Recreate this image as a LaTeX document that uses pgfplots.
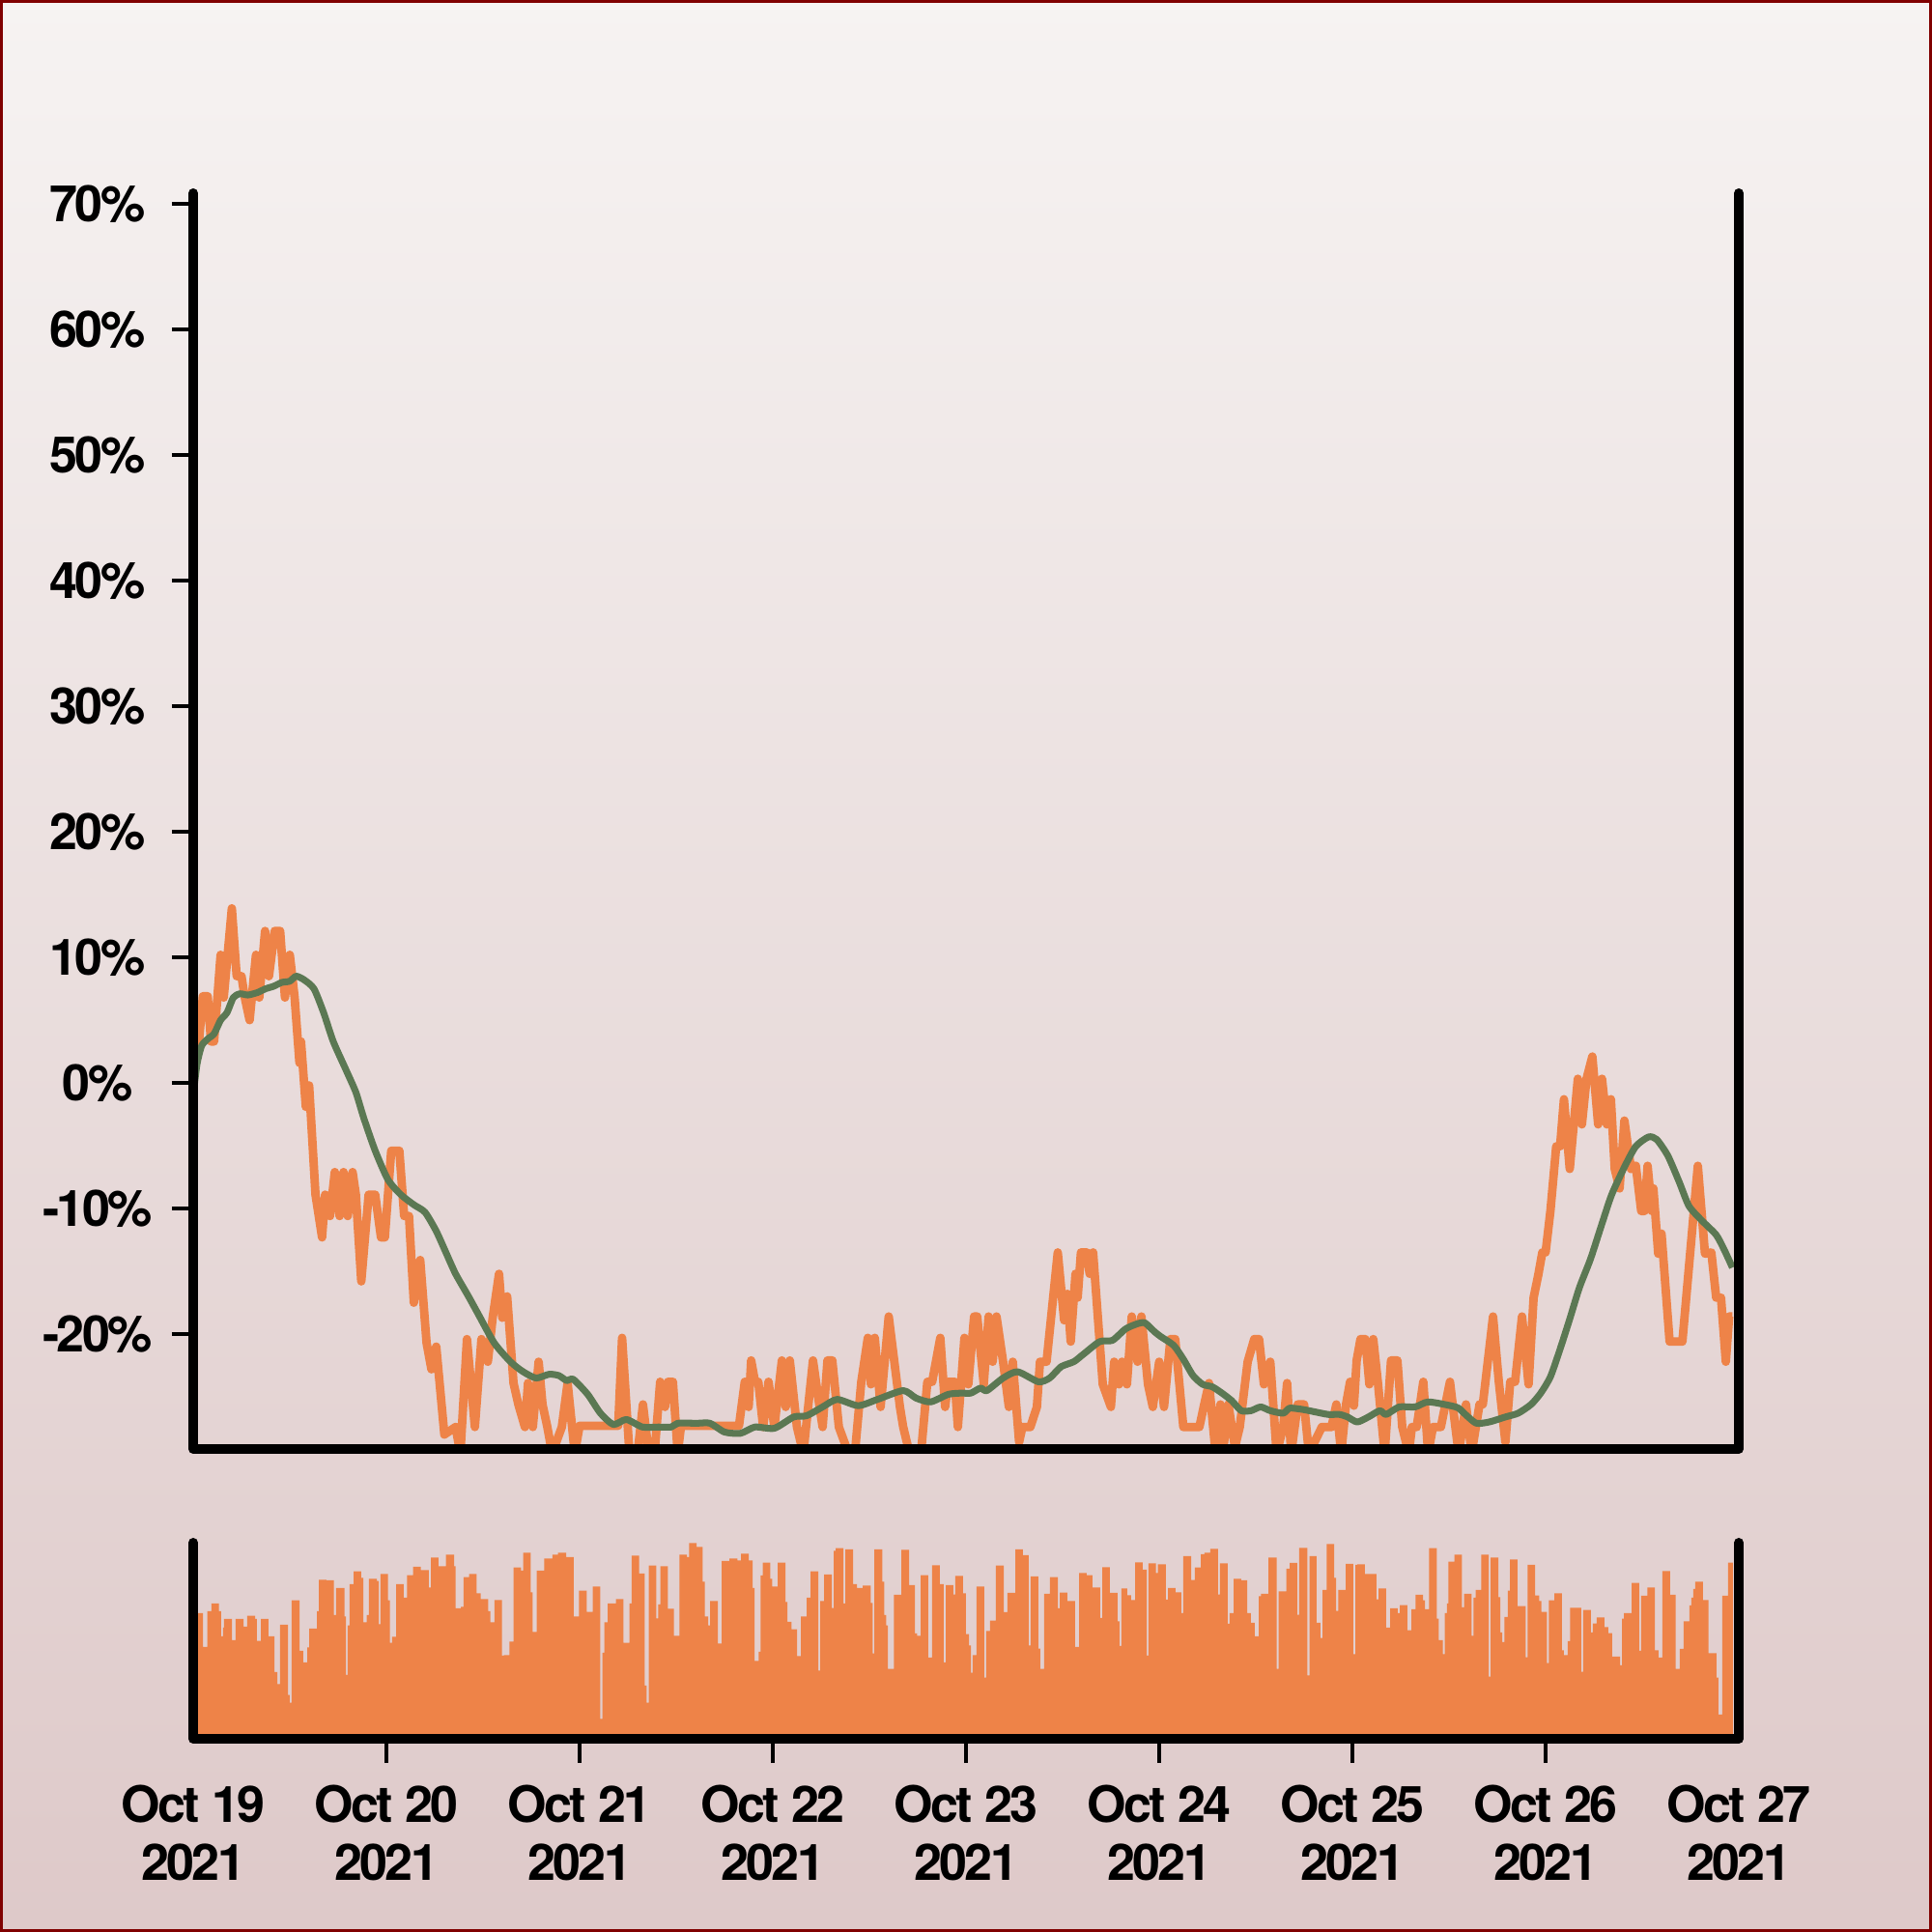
\documentclass[border=0pt]{standalone}
\usepackage{pgfplots}
\pgfplotsset{compat=1.18}
\usepackage{fontspec}
\setmainfont{TeX Gyre Heros}
\newfontfamily\lblfont{TeX Gyre Heros}[LetterSpace=-5]
\newcommand{\lbl}{\lblfont\bfseries\fontsize{14.8}{17.1}\selectfont}
\definecolor{orangeL}{RGB}{238,131,72}
\definecolor{greenL}{RGB}{91,120,83}
\definecolor{bgtop}{RGB}{246,243,242}
\definecolor{bgbot}{RGB}{222,201,201}
\definecolor{frameR}{RGB}{128,0,0}
\begin{document}
\begin{tikzpicture}
\useasboundingbox (0,0) rectangle (20,20);
\shade[top color=bgtop, bottom color=bgbot] (0,0) rectangle (20,20);
\draw[frameR, line width=0.03cm] (0.015,0.015) rectangle (19.985,19.985);

% ---------------- top axis ----------------
\begin{axis}[
  at={(2cm,5cm)}, anchor=south west, scale only axis,
  width=16cm, height=13cm,
  xmin=0, xmax=8, ymin=-29.15, ymax=70.85,
  axis line style={draw=none},
  xtick=\empty,
  ytick={-20,-10,0,10,20,30,40,50,60,70},
  yticklabels={-20\%,-10\%,0\%,10\%,20\%,30\%,40\%,50\%,60\%,70\%},
  ytick pos=left, tick align=outside, major tick length=0.22cm,
  tick style={black, line width=0.9pt},
  yticklabel style={font=\lbl, anchor=center, inner sep=0pt, xshift=-0.77cm},
]
\addplot[orangeL, line width=2.5pt, line join=round] coordinates {
(0.000,0.5) (0.030,3.3) (0.050,6.9) (0.075,6.9) (0.092,3.3) (0.108,3.3) (0.142,10.2) (0.158,6.8)
(0.200,13.9) (0.225,8.5) (0.250,8.5) (0.267,6.8) (0.292,5.0) (0.325,10.2) (0.342,6.8) (0.372,12.1)
(0.392,8.5) (0.422,12.1) (0.450,12.1) (0.475,6.8) (0.500,10.2) (0.525,6.8) (0.550,1.6) (0.558,3.3)
(0.583,-1.9) (0.600,-0.2) (0.633,-8.9) (0.667,-12.3) (0.683,-8.9) (0.708,-10.6) (0.733,-7.1) (0.758,-10.6)
(0.778,-7.1) (0.800,-10.6) (0.825,-7.1) (0.842,-8.9) (0.870,-15.8) (0.908,-8.9) (0.942,-8.9) (0.972,-12.3)
(0.992,-12.3) (1.025,-5.4) (1.067,-5.4) (1.092,-10.6) (1.117,-10.6) (1.142,-17.5) (1.175,-14.1) (1.208,-20.7)
(1.233,-22.8) (1.258,-21.0) (1.300,-28.0) (1.358,-27.4) (1.383,-29.5) (1.417,-20.4) (1.458,-27.4) (1.492,-20.4)
(1.525,-22.2) (1.550,-18.7) (1.583,-15.2) (1.600,-18.7) (1.625,-17.0) (1.658,-23.9) (1.683,-25.6) (1.717,-27.4)
(1.733,-23.9) (1.758,-27.4) (1.788,-22.2) (1.808,-25.6) (1.833,-27.4) (1.858,-29.5) (1.908,-27.4) (1.938,-23.9)
(1.975,-29.5) (2.000,-27.3) (2.200,-27.3) (2.220,-20.3) (2.258,-29.5) (2.300,-29.5) (2.328,-25.6) (2.358,-29.5)
(2.388,-29.5) (2.417,-23.8) (2.442,-25.8) (2.458,-23.8) (2.483,-23.8) (2.508,-29.5) (2.525,-27.3) (2.825,-27.3)
(2.855,-23.8) (2.875,-25.8) (2.888,-22.1) (2.908,-23.8) (2.925,-23.8) (2.950,-27.4) (2.978,-23.8) (3.008,-27.4)
(3.047,-22.1) (3.067,-25.8) (3.088,-22.1) (3.125,-27.4) (3.158,-29.5) (3.208,-22.1) (3.242,-25.8) (3.258,-27.4)
(3.283,-22.1) (3.308,-22.1) (3.342,-27.4) (3.392,-29.5) (3.425,-29.5) (3.458,-23.8) (3.492,-20.3) (3.508,-24.0)
(3.528,-20.3) (3.558,-25.8) (3.600,-18.6) (3.642,-23.8) (3.658,-25.8) (3.675,-27.4) (3.708,-29.5) (3.767,-29.5)
(3.800,-23.8) (3.825,-23.8) (3.867,-20.3) (3.892,-25.8) (3.908,-23.8) (3.942,-23.8) (3.958,-27.4) (3.992,-20.3)
(4.012,-24.0) (4.042,-18.6) (4.058,-18.6) (4.092,-24.0) (4.117,-18.6) (4.138,-22.2) (4.158,-18.6) (4.192,-22.2)
(4.222,-25.8) (4.242,-22.2) (4.275,-28.6) (4.292,-27.4) (4.333,-27.4) (4.367,-25.8) (4.383,-22.2) (4.417,-22.2)
(4.475,-13.5) (4.508,-18.9) (4.525,-16.8) (4.542,-20.6) (4.567,-15.2) (4.578,-17.1) (4.595,-13.5) (4.625,-13.5)
(4.640,-15.2) (4.658,-13.5) (4.708,-24.0) (4.750,-25.8) (4.767,-22.2) (4.792,-24.0) (4.808,-22.2) (4.833,-24.0)
(4.858,-18.6) (4.888,-22.2) (4.908,-18.6) (4.942,-24.0) (4.967,-25.8) (5.000,-22.2) (5.025,-25.8) (5.058,-20.4)
(5.083,-20.4) (5.125,-27.4) (5.208,-27.4) (5.233,-25.6) (5.258,-23.9) (5.292,-29.5) (5.317,-25.6) (5.333,-29.0)
(5.358,-25.6) (5.392,-29.0) (5.417,-27.4) (5.458,-22.2) (5.492,-20.4) (5.517,-20.4) (5.542,-24.0) (5.575,-22.2)
(5.608,-29.5) (5.642,-27.4) (5.662,-23.9) (5.683,-29.5) (5.717,-25.6) (5.750,-25.6) (5.775,-29.5) (5.842,-27.4)
(5.892,-27.4) (5.917,-25.6) (5.942,-29.5) (5.967,-25.6) (5.988,-23.8) (6.008,-25.7) (6.022,-22.1) (6.042,-20.4)
(6.067,-20.4) (6.088,-24.0) (6.108,-20.4) (6.133,-24.0) (6.167,-29.5) (6.200,-22.1) (6.233,-22.1) (6.258,-27.4)
(6.292,-29.5) (6.308,-27.4) (6.333,-27.4) (6.367,-23.8) (6.392,-29.5) (6.417,-27.4) (6.458,-27.4) (6.505,-23.8)
(6.533,-27.4) (6.550,-29.5) (6.588,-25.6) (6.617,-29.5) (6.658,-25.6) (6.675,-25.6) (6.728,-18.6) (6.758,-23.8)
(6.792,-28.6) (6.817,-23.8) (6.842,-23.8) (6.878,-18.6) (6.912,-24.0) (6.938,-17.1) (6.962,-15.3) (6.983,-13.5)
(7.000,-13.5) (7.025,-10.2) (7.055,-5.05) (7.075,-5.05) (7.095,-1.3) (7.125,-6.85) (7.167,0.33) (7.188,-3.3)
(7.212,0.33) (7.242,2.1) (7.272,-3.3) (7.292,0.33) (7.317,-3.3) (7.338,-1.3) (7.358,-6.85) (7.383,-8.4)
(7.408,-3.0) (7.442,-6.85) (7.467,-6.6) (7.495,-10.2) (7.512,-10.2) (7.528,-6.6) (7.550,-10.2) (7.558,-8.4)
(7.583,-13.6) (7.600,-12.0) (7.642,-20.6) (7.708,-20.6) (7.788,-6.6) (7.825,-13.6) (7.858,-13.5) (7.883,-17.1)
(7.908,-17.1) (7.933,-22.2) (7.950,-18.6) (7.967,-18.6)
};
\addplot[greenL, line width=2.0pt, line join=round, smooth, tension=0.4] coordinates {
(0.000,-1.0) (0.020,1.5) (0.045,3.0) (0.083,3.6) (0.108,3.9) (0.142,5.0) (0.175,5.6) (0.208,6.8)
(0.242,7.1) (0.283,7.0) (0.333,7.2) (0.375,7.5) (0.417,7.7) (0.458,8.0) (0.500,8.1) (0.533,8.5)
(0.575,8.2) (0.625,7.5) (0.675,5.6) (0.725,3.3) (0.792,1.0) (0.842,-0.75) (0.883,-2.8) (0.942,-5.4)
(1.008,-7.7) (1.075,-8.9) (1.142,-9.7) (1.200,-10.3) (1.258,-11.8) (1.308,-13.5) (1.358,-15.2) (1.425,-17.0)
(1.475,-18.4) (1.558,-20.7) (1.642,-22.2) (1.708,-23.0) (1.775,-23.5) (1.842,-23.2) (1.892,-23.3) (1.933,-23.7)
(1.967,-23.6) (2.042,-24.8) (2.108,-26.3) (2.175,-27.2) (2.242,-26.8) (2.325,-27.4) (2.408,-27.4) (2.475,-27.4)
(2.508,-27.1) (2.608,-27.1) (2.675,-27.1) (2.750,-27.8) (2.833,-27.9) (2.908,-27.4) (3.008,-27.5) (3.108,-26.6)
(3.175,-26.5) (3.258,-25.8) (3.333,-25.2) (3.442,-25.7) (3.542,-25.2) (3.675,-24.5) (3.742,-25.1) (3.817,-25.4)
(3.908,-24.8) (3.975,-24.7) (4.025,-24.7) (4.075,-24.3) (4.108,-24.5) (4.192,-23.5) (4.267,-23.0) (4.375,-23.8)
(4.433,-23.5) (4.492,-22.6) (4.558,-22.2) (4.608,-21.6) (4.692,-20.6) (4.758,-20.5) (4.825,-19.6) (4.883,-19.2)
(4.925,-19.1) (4.975,-19.8) (5.008,-20.2) (5.075,-20.9) (5.125,-22.0) (5.175,-23.3) (5.225,-24.0) (5.275,-24.2)
(5.325,-24.7) (5.375,-25.3) (5.425,-26.1) (5.475,-26.1) (5.525,-25.8) (5.575,-26.1) (5.642,-26.3) (5.675,-25.9)
(5.742,-26.0) (5.808,-26.2) (5.875,-26.4) (5.933,-26.4) (5.975,-26.6) (6.025,-27.0) (6.083,-26.6) (6.142,-26.1)
(6.175,-26.4) (6.242,-25.8) (6.325,-25.8) (6.392,-25.4) (6.508,-25.7) (6.550,-25.9) (6.592,-26.5) (6.642,-27.1)
(6.708,-27.0) (6.792,-26.6) (6.858,-26.3) (6.925,-25.6) (6.975,-24.7) (7.025,-23.4) (7.075,-21.2) (7.125,-18.8)
(7.175,-16.3) (7.233,-14.0) (7.292,-11.2) (7.342,-8.9) (7.408,-6.7) (7.467,-5.05) (7.533,-4.3) (7.575,-4.5)
(7.633,-5.8) (7.692,-7.9) (7.742,-9.8) (7.808,-10.95) (7.883,-12.1) (7.925,-13.3) (7.967,-14.7)
};
\end{axis}
\draw[black, line width=0.1cm, line cap=round, line join=round] (2,18) -- (2,5) -- (18,5) -- (18,18);

% ---------------- bottom axis ----------------
\begin{axis}[
  at={(2cm,2cm)}, anchor=south west, scale only axis,
  width=16cm, height=2.03cm,
  xmin=0, xmax=8, ymin=0, ymax=101.5,
  axis line style={draw=none},
  ytick=\empty,
  xtick={1,2,3,4,5,6,7},
  xticklabels={{Oct 20\\2021},{Oct 21\\2021},{Oct 22\\2021},{Oct 23\\2021},{Oct 24\\2021},{Oct 25\\2021},{Oct 26\\2021}},
  extra x ticks={0,8},
  extra x tick labels={{Oct 19\\2021},{Oct 27\\2021}},
  extra x tick style={tick style={draw=none}},
  xtick pos=left, tick align=outside, major tick length=0.25cm,
  tick style={black, line width=0.9pt},
  xticklabel style={font=\lbl, align=center, anchor=north, inner sep=0pt, yshift=-0.22cm},
]
\addplot[ybar interval, fill=orangeL, draw=none] coordinates {
(0.000,65) (0.050,47.5) (0.073,66) (0.094,70) (0.133,66) (0.144,53) (0.154,57.5) (0.159,62)
(0.201,51) (0.219,62) (0.261,58) (0.279,63.7) (0.321,62) (0.329,50.7) (0.350,62) (0.389,53)
(0.420,34.5) (0.436,28.3) (0.449,59) (0.491,22.7) (0.499,18.7) (0.509,71.7) (0.551,45.5) (0.569,39.5)
(0.590,47.3) (0.601,57) (0.640,66) (0.650,82.3) (0.689,82) (0.728,64) (0.739,78) (0.783,63.3)
(0.791,33) (0.799,58.7) (0.809,80) (0.830,86.7) (0.869,83.3) (0.880,60.3) (0.898,64) (0.909,82.8)
(0.950,81.7) (0.961,59.3) (0.969,85.3) (1.008,71.7) (1.018,49.7) (1.029,52.8) (1.050,80) (1.089,73)
(1.107,84.7) (1.138,89) (1.178,87.3) (1.219,78.3) (1.230,93.8) (1.269,89.3) (1.308,95.3) (1.350,89.3)
(1.358,67.5) (1.386,68.3) (1.399,83.7) (1.428,85.3) (1.467,75.3) (1.488,72.3) (1.527,66) (1.538,60.3)
(1.559,71.8) (1.598,43) (1.608,43.3) (1.637,50.3) (1.658,88.7) (1.697,87) (1.708,96.3) (1.747,75.8)
(1.757,55.3) (1.778,87) (1.817,93.3) (1.859,95.3) (1.888,96.3) (1.930,94) (1.969,63.3) (1.997,76.7)
(2.037,65.7) (2.068,78.8) (2.107,10.3) (2.118,44.5) (2.128,60.3) (2.146,70) (2.188,72.3) (2.227,49.7)
(2.258,70) (2.269,94.8) (2.308,85.5) (2.337,27.5) (2.347,18.7) (2.358,89.7) (2.397,62.3) (2.407,69.5)
(2.418,89.3) (2.457,67.3) (2.488,53.3) (2.517,95.3) (2.556,94) (2.567,101.3) (2.606,99.3) (2.637,81.3)
(2.648,63.3) (2.666,58.7) (2.676,71.3) (2.715,49.3) (2.736,92) (2.775,93.3) (2.817,92.3) (2.836,95.8)
(2.875,92.3) (2.896,78) (2.906,40.3) (2.927,45) (2.937,84.5) (2.948,91.2) (2.987,82.8) (2.997,78.8)
(3.026,91.2) (3.065,70.8) (3.076,60.5) (3.097,56.7) (3.125,42.8) (3.146,63.3) (3.175,73) (3.196,86.7)
(3.235,35.3) (3.245,71.3) (3.266,85) (3.305,67.7) (3.316,97.3) (3.326,98.7) (3.366,70) (3.376,98)
(3.415,80) (3.436,78) (3.465,79.3) (3.507,70.3) (3.517,44.2) (3.525,98) (3.567,81.3) (3.577,64)
(3.587,58.7) (3.595,36.2) (3.627,74.5) (3.666,97.8) (3.705,79.5) (3.736,54.5) (3.747,53.3) (3.765,84.7)
(3.804,42) (3.825,89.8) (3.864,80) (3.885,39.5) (3.896,79.5) (3.935,74.7) (3.945,84.3) (3.984,75.3)
(4.000,54.2) (4.016,48.3) (4.026,34.2) (4.034,43.3) (4.055,78.8) (4.094,31.7) (4.105,55.8) (4.125,61.2)
(4.154,89.7) (4.196,65.5) (4.214,75.5) (4.256,98) (4.295,95) (4.324,48.3) (4.335,84) (4.374,46.7)
(4.384,36.2) (4.405,75) (4.434,83.7) (4.476,67.5) (4.486,75.7) (4.525,71.3) (4.565,47.5) (4.586,85.8)
(4.625,84.7) (4.654,78.3) (4.695,62.5) (4.706,88.8) (4.745,75.5) (4.784,60.8) (4.795,48) (4.805,77.8)
(4.834,74.3) (4.855,71.8) (4.876,91.3) (4.915,87.5) (4.936,43) (4.944,90.8) (4.983,85.8) (4.993,90.3)
(5.035,72) (5.046,78) (5.085,75.8) (5.114,65) (5.124,94.5) (5.166,82.2) (5.184,88.7) (5.216,95.5)
(5.234,96.3) (5.265,98.3) (5.305,74.7) (5.315,90.8) (5.354,59.5) (5.365,65) (5.386,82.8) (5.425,82)
(5.456,65) (5.475,60) (5.495,53) (5.516,73.8) (5.527,75) (5.566,93.8) (5.608,36.2) (5.618,76.3)
(5.658,88) (5.676,91) (5.715,64.2) (5.725,98.8) (5.767,32.8) (5.778,94.5) (5.814,60) (5.835,52.2)
(5.846,77) (5.867,100.8) (5.906,83.3) (5.916,66.2) (5.927,77) (5.966,90.5) (6.005,43.8) (6.016,90)
(6.026,90.3) (6.065,85.3) (6.125,72.2) (6.136,77.8) (6.175,57.5) (6.196,67.5) (6.235,65) (6.246,69.2)
(6.285,56.2) (6.306,67) (6.327,74.5) (6.366,71.7) (6.376,67) (6.397,98.7) (6.437,62.2) (6.447,51)
(6.468,43.8) (6.478,65) (6.489,70) (6.497,91.7) (6.528,95.3) (6.567,68) (6.578,75) (6.617,53.3)
(6.627,73) (6.638,77) (6.667,95.3) (6.706,32.2) (6.716,93.8) (6.756,73.3) (6.766,55) (6.776,50)
(6.787,63) (6.805,76.7) (6.816,92.8) (6.855,68.7) (6.897,42.2) (6.907,90) (6.946,74.2) (6.967,71.3)
(6.978,65.7) (7.007,39.2) (7.017,71.7) (7.046,75.3) (7.085,45.8) (7.095,43.3) (7.114,50.5) (7.127,67.8)
(7.184,34.7) (7.195,66.7) (7.234,55) (7.244,59.7) (7.265,62.8) (7.305,57.8) (7.325,54.7) (7.344,42.5)
(7.386,38) (7.396,62.2) (7.406,65) (7.446,80.7) (7.485,45.5) (7.495,74) (7.527,78.3) (7.566,45.8)
(7.584,42) (7.605,86.8) (7.644,74.5) (7.673,36.2) (7.694,46.5) (7.715,60.8) (7.744,69) (7.754,73)
(7.765,77.5) (7.775,81.3) (7.814,71.8) (7.843,44.3) (7.885,31.7) (7.895,12.5) (7.914,74) (7.945,91.2)
(7.969,0)
};
\end{axis}
\draw[black, line width=0.1cm, line cap=round, line join=round] (2,4.03) -- (2,2) -- (18,2) -- (18,4.03);
\end{tikzpicture}
\end{document}
